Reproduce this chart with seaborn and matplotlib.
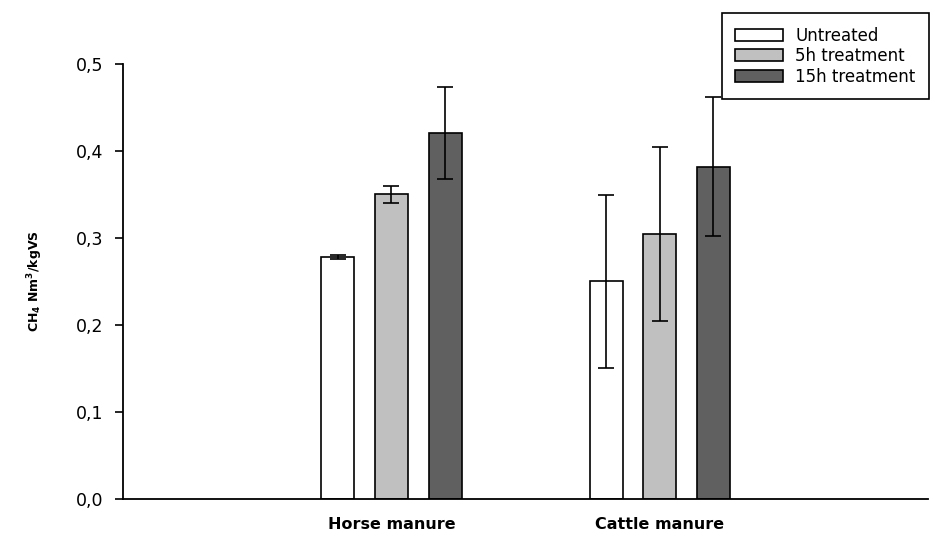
"""
Biomethane yield of horse and cattle manure per treatment.
Bar chart with error bars, mimicking a SigmaPlot-style figure.
"""

import pandas as pd
import seaborn as sns
import matplotlib.pyplot as plt
from matplotlib.ticker import FuncFormatter

# ========= Data =========
categories = ["Horse manure", "Cattle manure"]
treatments = ["Untreated", "5h treatment", "15h treatment"]

untreated = [0.278, 0.250]
treat_5h = [0.350, 0.305]
treat_15h = [0.421, 0.382]

err_untreated = [0.002, 0.099]
err_5h = [0.010, 0.100]
err_15h = [0.053, 0.080]

colors = {"Untreated": "#ffffff", "5h treatment": "#c0c0c0", "15h treatment": "#606060"}

# ========= Table =========
df = pd.DataFrame({
    "substrate": categories * 3,
    "treatment": [t for t in treatments for _ in categories],
    "yield": untreated + treat_5h + treat_15h,
})
errors = [err_untreated, err_5h, err_15h]

# ========= Plot =========
sns.set_style("ticks")
plt.rcParams["font.family"] = ["DejaVu Sans"]
plt.rcParams["text.color"] = "black"
plt.rcParams["axes.labelcolor"] = "black"

fig = plt.figure(figsize=(9.35, 5.33), dpi=100)
ax = fig.add_axes([0.1316, 0.0638, 0.861, 0.8162])

sns.barplot(
    data=df, x="substrate", y="yield", hue="treatment",
    order=categories, hue_order=treatments, palette=colors,
    width=0.6, gap=0.385, errorbar=None,
    edgecolor="black", linewidth=1.2, ax=ax,
)

# error bars from the bar containers
for container, err in zip(ax.containers, errors):
    xs = [p.get_x() + p.get_width() / 2 for p in container.patches]
    ys = [p.get_height() for p in container.patches]
    ax.errorbar(xs, ys, yerr=err, fmt="none", ecolor="black",
                elinewidth=1.2, capsize=5.5, capthick=1.2, zorder=5)

ax.set_xlim(-1.0, 2.0)
ax.set_ylim(0, 0.5)
ax.set_yticks([0, 0.1, 0.2, 0.3, 0.4, 0.5])
ax.yaxis.set_major_formatter(FuncFormatter(lambda v, _: f"{v:.1f}".replace(".", ",")))

ax.tick_params(axis="y", length=6, width=1.2, pad=8, labelsize=12.5, colors="black")
ax.tick_params(axis="x", length=0, pad=13, labelsize=11.5, labelcolor="black")
for lbl in ax.get_xticklabels():
    lbl.set_fontweight("bold")

ax.set_xlabel("")
ax.set_ylabel(r"$\mathbf{CH_4\ Nm^3/kgVS}$", fontsize=9, fontweight="bold")
ax.yaxis.set_label_coords(-0.097, 0.5)

sns.despine(ax=ax)
for side in ["left", "bottom"]:
    ax.spines[side].set_linewidth(1.3)
    ax.spines[side].set_color("black")

handles, labels = ax.get_legend_handles_labels()
leg = ax.legend(
    handles, labels, loc="upper left",
    bbox_to_anchor=(721.7 / 935, 1 - 13.3 / 533), bbox_transform=fig.transFigure,
    fontsize=12, frameon=True, fancybox=False, framealpha=1, edgecolor="black",
    handlelength=2.9, handleheight=0.7, handletextpad=0.7,
    labelspacing=0.15, borderpad=0.8, borderaxespad=0, labelcolor="black",
)
leg.get_frame().set_linewidth(1.2)

plt.savefig("out.png", dpi=100)
plt.close()
